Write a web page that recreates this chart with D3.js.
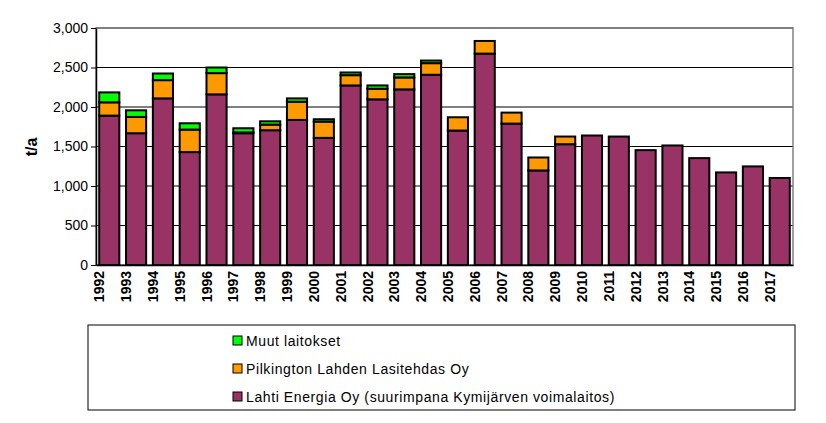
<!DOCTYPE html><html><head><meta charset="utf-8">
<script src="https://cdn.jsdelivr.net/npm/d3@7"></script>
<style>body{margin:0;background:#fff}</style></head><body>
<svg id="c" width="826" height="423"></svg>
<script>
const years=["1992","1993","1994","1995","1996","1997","1998","1999","2000","2001","2002","2003","2004","2005","2006","2007","2008","2009","2010","2011","2012","2013","2014","2015","2016","2017"];
const lahti=[1891,1668,2109,1429,2160,1668,1706,1836,1609,2273,2097,2223,2408,1702,2676,1790,1197,1529,1639,1626,1454,1513,1353,1172,1248,1101];
const pilkington=[168,206,231,285,269,10,71,231,206,130,134,151,147,168,160,139,164,97,0,0,0,0,0,0,0,0];
const muut=[126,84,84,80,71,53,42,42,30,34,42,42,33,0,0,0,0,0,0,0,0,0,0,0,0,0];
const yTicks=[0,500,1000,1500,2000,2500,3000];
const seriesNames=["Lahti Energia Oy (suurimpana Kymijärven voimalaitos)","Pilkington Lahden Lasitehdas Oy","Muut laitokset"];
const colors=["#993366","#FF9900","#00FF00"];
const svg=d3.select("#c");
const m={l:96,r:793,t:28,b:265};
const x=d3.scaleBand().domain(years).range([m.l,m.r]).paddingInner(0.25).paddingOuter(0.12);
const y=d3.scaleLinear().domain([0,3000]).range([m.b,m.t]);
svg.append("g").selectAll("line").data(yTicks).join("line").attr("x1",m.l).attr("x2",m.r)
 .attr("y1",d=>y(d)).attr("y2",d=>y(d)).attr("stroke","#000").attr("stroke-width",1);
svg.append("rect").attr("x",m.l).attr("y",m.t).attr("width",m.r-m.l).attr("height",m.b-m.t).attr("fill","none").attr("stroke","#808080").attr("stroke-width",1.5);
const data=years.map((yr,i)=>({yr,Lahti:lahti[i],Pil:pilkington[i],Muut:muut[i]}));
const stack=d3.stack().keys(["Lahti","Pil","Muut"])(data);
stack.forEach((s,k)=>{
 svg.append("g").selectAll("rect").data(s.filter(d=>d[1]>d[0])).join("rect")
  .attr("x",d=>x(d.data.yr)).attr("width",x.bandwidth())
  .attr("y",d=>y(d[1])).attr("height",d=>y(d[0])-y(d[1]))
  .attr("fill",colors[k]).attr("stroke","#000").attr("stroke-width",2);
});
const ya=svg.append("g").attr("transform",`translate(${m.l},0)`).call(d3.axisLeft(y).tickValues(yTicks).tickSize(5).tickSizeOuter(0));
ya.select(".domain").attr("stroke","#000").attr("stroke-width",1.5);
ya.selectAll("text").attr("font-family","Arial, Liberation Sans").attr("font-size",14).attr("fill","#000");
const xa=svg.append("g").attr("transform",`translate(0,${m.b})`).call(d3.axisBottom(x).tickSize(0).tickSizeOuter(0));
xa.select(".domain").attr("stroke","#000").attr("stroke-width",1.5);
xa.selectAll("text").attr("font-family","Arial, Liberation Sans").attr("font-size",14).attr("font-weight","bold").attr("fill","#000")
 .attr("transform","rotate(-90)").attr("text-anchor","end").attr("dx","-6").attr("dy","-0.35em").attr("x",0).attr("y",0);
svg.append("text").attr("transform","translate(37,147) rotate(-90)").attr("text-anchor","middle")
 .attr("font-family","Arial, Liberation Sans").attr("font-size",16).attr("font-weight","bold").text("t/a");
svg.append("rect").attr("x",88).attr("y",325).attr("width",707).attr("height",85).attr("fill","#fff").attr("stroke","#000");
const leg=[2,1,0];
leg.forEach((k,i)=>{
 const yy=341+i*28;
 svg.append("rect").attr("x",233).attr("y",yy-5).attr("width",9).attr("height",9).attr("fill",colors[k]).attr("stroke","#000");
 svg.append("text").attr("x",246).attr("y",yy+5).attr("font-family","Arial, Liberation Sans").attr("font-size",14).attr("letter-spacing","0.6").text(seriesNames[k]);
});
</script></body></html>
